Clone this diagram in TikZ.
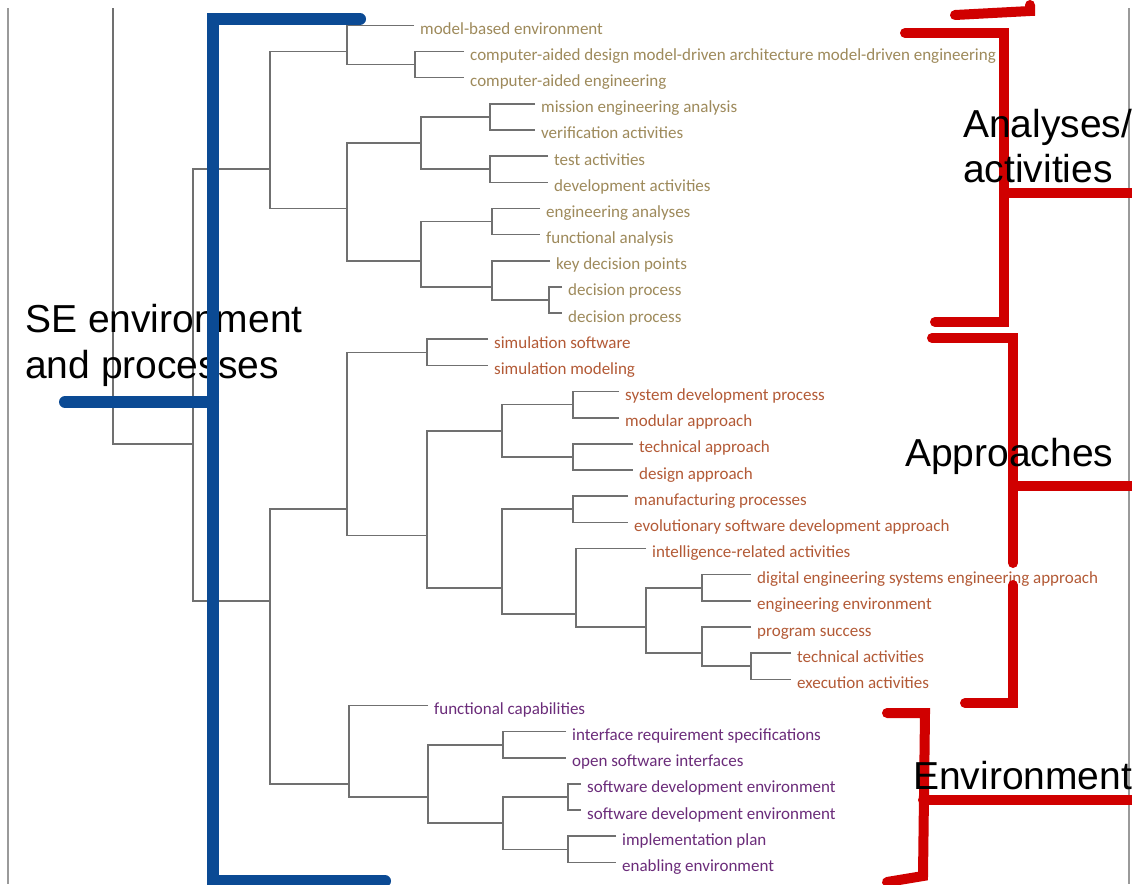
\documentclass[tikz,border=0pt]{standalone}
\usepackage{fontspec}
\setmainfont{Liberation Sans}
\newfontfamily\leaffont{Carlito}
\definecolor{treegray}{HTML}{707070}
\definecolor{framegray}{HTML}{9A9A9A}
\definecolor{colA}{HTML}{9E8A5B}
\definecolor{colB}{HTML}{B35A36}
\definecolor{colC}{HTML}{6B2C7A}
\definecolor{bracketblue}{HTML}{0B4A94}
\definecolor{bracketred}{HTML}{D00000}
\begin{document}
\begin{tikzpicture}[x=1pt,y=-1pt,
  tree/.style={draw=treegray,line width=1.6pt},
  leaf/.style={anchor=west,inner xsep=6pt,inner ysep=0pt,text height=18pt,text depth=0pt,font=\leaffont\fontsize{17}{20}\selectfont},
  leafA/.style={leaf,text=colA},
  leafB/.style={leaf,text=colB},
  leafC/.style={leaf,text=colC},
  biglabel/.style={anchor=base west,inner sep=0pt,font=\fontsize{39}{47}\selectfont,text=black},
  bluebr/.style={draw=bracketblue,line width=12pt,line cap=round},
  redbr/.style={draw=bracketred,line width=10pt,line cap=round},
  framel/.style={draw=framegray,line width=1.5pt}]
\useasboundingbox (0,0) rectangle (1132,884);
\fill[white] (0,0) rectangle (1132,884);
% frame lines
\draw[framel] (8,8) -- (8,884);
\draw[framel] (1129,8) -- (1129,884);
% leaves
\node[leafA] (L1) at (414,25.3) {model-based environment};
\node[leafA] (L2) at (464,51.5) {computer-aided design model-driven architecture model-driven engineering};
\node[leafA] (L3) at (464,77.6) {computer-aided engineering};
\node[leafA] (L4) at (535,103.8) {mission engineering analysis};
\node[leafA] (L5) at (535,129.9) {verification activities};
\node[leafA] (L6) at (548,156.1) {test activities};
\node[leafA] (L7) at (548,182.3) {development activities};
\node[leafA] (L8) at (540,208.4) {engineering analyses};
\node[leafA] (L9) at (540,234.6) {functional analysis};
\node[leafA] (L10) at (550,260.7) {key decision points};
\node[leafA] (L11) at (562,286.9) {decision process};
\node[leafA] (L12) at (562,313.1) {decision process};
\node[leafB] (L13) at (488,339.2) {simulation software};
\node[leafB] (L14) at (488,365.4) {simulation modeling};
\node[leafB] (L15) at (619,391.5) {system development process};
\node[leafB] (L16) at (619,417.7) {modular approach};
\node[leafB] (L17) at (633,443.9) {technical approach};
\node[leafB] (L18) at (633,470.0) {design approach};
\node[leafB] (L19) at (628,496.2) {manufacturing processes};
\node[leafB] (L20) at (628,522.3) {evolutionary software development approach};
\node[leafB] (L21) at (646,548.5) {intelligence-related activities};
\node[leafB] (L22) at (751,574.6) {digital engineering systems engineering approach};
\node[leafB] (L23) at (751,600.8) {engineering environment};
\node[leafB] (L24) at (751,627.0) {program success};
\node[leafB] (L25) at (791,653.1) {technical activities};
\node[leafB] (L26) at (791,679.3) {execution activities};
\node[leafC] (L27) at (428,705.5) {functional capabilities};
\node[leafC] (L28) at (566,731.6) {interface requirement specifications};
\node[leafC] (L29) at (566,757.8) {open software interfaces};
\node[leafC] (L30) at (581,783.9) {software development environment};
\node[leafC] (L31) at (581,810.1) {software development environment};
\node[leafC] (L32) at (616,836.2) {implementation plan};
\node[leafC] (L33) at (616,862.4) {enabling environment};
% internal nodes
\coordinate (A23) at (415,64.55);
\coordinate (A13) at (347,51.5);
\coordinate (A45) at (490,116.85);
\coordinate (A67) at (490,169.2);
\coordinate (A47) at (421,143.05);
\coordinate (A89) at (492,221.5);
\coordinate (A1112) at (549,300.0);
\coordinate (A1012) at (492,286.9);
\coordinate (A812) at (421,260.7);
\coordinate (A412) at (347,208.4);
\coordinate (A) at (270,169.2);
\coordinate (B1314) at (427,352.3);
\coordinate (B1516) at (573,404.6);
\coordinate (B1718) at (573,457.0);
\coordinate (B1518) at (502,430.8);
\coordinate (B1920) at (573,509.25);
\coordinate (B2223) at (702,587.7);
\coordinate (B2526) at (751,666.2);
\coordinate (B2426) at (702,653.1);
\coordinate (B2226) at (646,627.0);
\coordinate (B2126) at (576,613.9);
\coordinate (B1926) at (502,587.75);
\coordinate (B1526) at (427,535.4);
\coordinate (B) at (347,509.25);
\coordinate (C2829) at (503,744.7);
\coordinate (C3031) at (568,797.0);
\coordinate (C3233) at (568,849.3);
\coordinate (C3033) at (503,823.15);
\coordinate (C2833) at (428,797.0);
\coordinate (C) at (349,783.9);
\coordinate (BC) at (270,600.8);
\coordinate (SE) at (193,443.85);
\coordinate (R) at (113,443.85);
\coordinate (Rtop) at (113,8);
% tree connectors
\draw[tree] (L2.west) -| (A23) |- (L3.west);
\draw[tree] (L1.west) -| (A13) |- (A23);
\draw[tree] (L4.west) -| (A45) |- (L5.west);
\draw[tree] (L6.west) -| (A67) |- (L7.west);
\draw[tree] (A45) -| (A47) |- (A67);
\draw[tree] (L8.west) -| (A89) |- (L9.west);
\draw[tree] (L11.west) -| (A1112) |- (L12.west);
\draw[tree] (L10.west) -| (A1012) |- (A1112);
\draw[tree] (A89) -| (A812) |- (A1012);
\draw[tree] (A47) -| (A412) |- (A812);
\draw[tree] (A13) -| (A) |- (A412);
\draw[tree] (L13.west) -| (B1314) |- (L14.west);
\draw[tree] (L15.west) -| (B1516) |- (L16.west);
\draw[tree] (L17.west) -| (B1718) |- (L18.west);
\draw[tree] (B1516) -| (B1518) |- (B1718);
\draw[tree] (L19.west) -| (B1920) |- (L20.west);
\draw[tree] (L22.west) -| (B2223) |- (L23.west);
\draw[tree] (L25.west) -| (B2526) |- (L26.west);
\draw[tree] (L24.west) -| (B2426) |- (B2526);
\draw[tree] (B2223) -| (B2226) |- (B2426);
\draw[tree] (L21.west) -| (B2126) |- (B2226);
\draw[tree] (B1920) -| (B1926) |- (B2126);
\draw[tree] (B1518) -| (B1526) |- (B1926);
\draw[tree] (B1314) -| (B) |- (B1526);
\draw[tree] (L28.west) -| (C2829) |- (L29.west);
\draw[tree] (L30.west) -| (C3031) |- (L31.west);
\draw[tree] (L32.west) -| (C3233) |- (L33.west);
\draw[tree] (C3031) -| (C3033) |- (C3233);
\draw[tree] (C2829) -| (C2833) |- (C3033);
\draw[tree] (L27.west) -| (C) |- (C2833);
\draw[tree] (B) -| (BC) |- (C);
\draw[tree] (A) -| (SE) |- (BC);
\draw[tree] (SE) -- (R) -- (Rtop);
% big labels
\node[biglabel] (se1) at (25,332) {SE environment};
\node[biglabel] (se2) at (25,378) {and processes};
% blue bracket
\draw[bluebr] (360,19) -- (213,19) -- (213,881) -- (385,881);
\draw[bluebr] (65,402) -- (213,402);
% red brackets
\draw[redbr] (955,15) -- (1030,11) -- (1030,5);
\draw[redbr] (905,33) -- (1004,33) -- (1004,322) -- (935,322);
\draw[redbr] (1004,193) -- (1140,193);
\draw[redbr] (932,338) -- (1013,338) -- (1013,563);
\draw[redbr] (1013,585) -- (1013,703) -- (965,703);
\draw[redbr] (1013,486) -- (1140,486);
\draw[redbr] (887,713) -- (925,713) -- (923,876) -- (887,882);
\draw[redbr] (923,800) -- (1140,800);
% right labels
\node[biglabel] (an1) at (963,137) {Analyses/};
\node[biglabel] (an2) at (963,182) {activities};
\node[biglabel] (ap) at (905,466) {Approaches};
\node[biglabel] (en) at (913,789) {Environment};
\end{tikzpicture}
\end{document}
